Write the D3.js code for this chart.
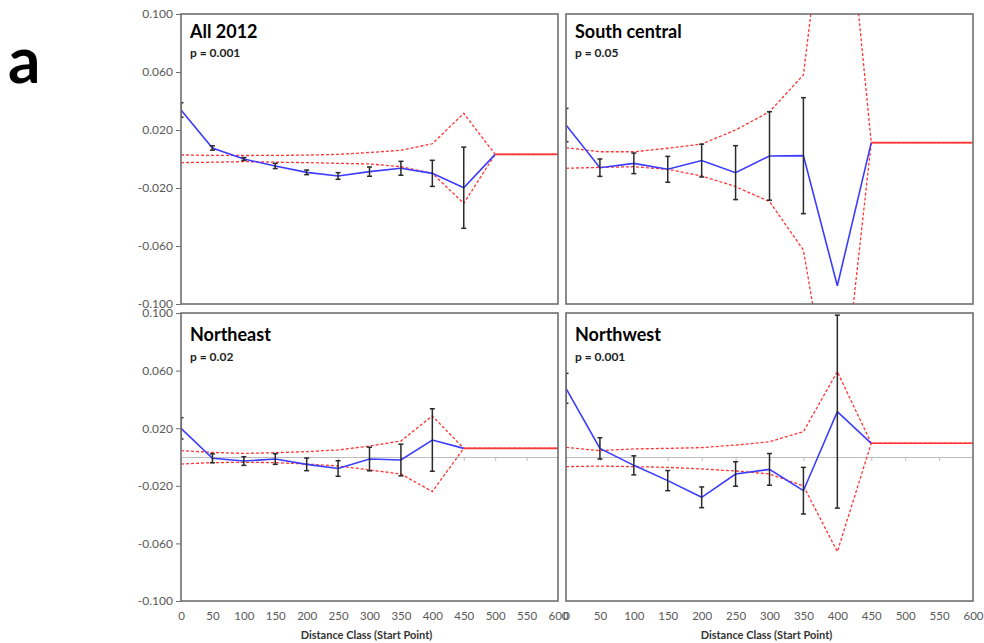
<!DOCTYPE html>
<html>
<head>
<meta charset="utf-8">
<script src="https://cdn.jsdelivr.net/npm/d3@7"></script>
<style>
  body { margin: 0; background: #fff; }
  svg { font-family: Lato, "Open Sans", sans-serif; }
</style>
</head>
<body>
<svg width="984" height="643"></svg>
<script>
// distance classes (start point) and y ticks
const distanceClass = [0, 50, 100, 150, 200, 250, 300, 350, 400, 450, 500, 550, 600];
const yTickValues = [0.100, 0.060, 0.020, -0.020, -0.060, -0.100];

// All 2012
const all2012Mean  = [0.0338, 0.0076, 0.0000, -0.0048, -0.0092, -0.0117, -0.0087, -0.0064, -0.0099, -0.0198, 0.0032];
const all2012Err   = [0.0050, 0.0015, 0.0010, 0.0018, 0.0016, 0.0023, 0.0032, 0.0048, 0.0090, 0.0280, null];
const all2012Upper = [0.0028, 0.0025, 0.0024, 0.0025, 0.0027, 0.0032, 0.0045, 0.0060, 0.0105, 0.0315, 0.0032, 0.0032, 0.0032];
const all2012Lower = [-0.0025, -0.0022, -0.0018, -0.0022, -0.0025, -0.0030, -0.0034, -0.0053, -0.0099, -0.0306, 0.0032, 0.0032, 0.0032];

// South central
const southMean  = [0.0234, -0.0060, -0.0030, -0.0071, -0.0011, -0.0094, 0.0021, 0.0023, -0.0874, 0.0113];
const southErr   = [0.0115, 0.0060, 0.0071, 0.0089, 0.0113, 0.0186, 0.0305, 0.0400, null, null];
const southUpper = [0.0078, 0.0050, 0.0050, 0.0074, 0.0103, 0.0200, 0.0326, 0.0580, 0.2500, 0.0113, 0.0113, 0.0113, 0.0113];
const southLower = [-0.0064, -0.0058, -0.0053, -0.0071, -0.0117, -0.0190, -0.0294, -0.0628, -0.2000, 0.0113, 0.0113, 0.0113, 0.0113];

// Northeast
const northeastMean  = [0.0199, -0.0009, -0.0028, -0.0014, -0.0051, -0.0080, -0.0014, -0.0021, 0.0118, 0.0060];
const northeastErr   = [0.0074, 0.0031, 0.0030, 0.0037, 0.0044, 0.0054, 0.0082, 0.0110, 0.0217, null];
const northeastUpper = [0.0044, 0.0032, 0.0025, 0.0030, 0.0037, 0.0049, 0.0076, 0.0111, 0.0285, 0.0060, 0.0060, 0.0060, 0.0060];
const northeastLower = [-0.0049, -0.0039, -0.0037, -0.0039, -0.0049, -0.0062, -0.0090, -0.0118, -0.0240, 0.0060, 0.0060, 0.0060, 0.0060];

// Northwest
const northwestMean  = [0.0477, 0.0060, -0.0058, -0.0164, -0.0280, -0.0118, -0.0086, -0.0234, 0.0315, 0.0095];
const northwestErr   = [0.0104, 0.0074, 0.0066, 0.0070, 0.0072, 0.0085, 0.0110, 0.0162, 0.0670, null];
const northwestUpper = [0.0067, 0.0044, 0.0056, 0.0060, 0.0065, 0.0083, 0.0106, 0.0176, 0.0593, 0.0095, 0.0095, 0.0095, 0.0095];
const northwestLower = [-0.0067, -0.0063, -0.0067, -0.0072, -0.0083, -0.0097, -0.0118, -0.0201, -0.0657, 0.0095, 0.0095, 0.0095, 0.0095];

const panels = [
  { title: 'All 2012', p: 'p = 0.001', mean: all2012Mean, err: all2012Err, upper: all2012Upper, lower: all2012Lower,
    left: 181, right: 558, top: 14, bottom: 304, titleY: 38, pY: 57, yLabels: true, zeroLine: false, xLabels: false },
  { title: 'South central', p: 'p = 0.05', mean: southMean, err: southErr, upper: southUpper, lower: southLower,
    left: 566, right: 973, top: 14, bottom: 304, titleY: 38, pY: 57, yLabels: false, zeroLine: false, xLabels: false },
  { title: 'Northeast', p: 'p = 0.02', mean: northeastMean, err: northeastErr, upper: northeastUpper, lower: northeastLower,
    left: 181, right: 558, top: 313, bottom: 601, titleY: 341, pY: 361, yLabels: true, zeroLine: true, xLabels: true },
  { title: 'Northwest', p: 'p = 0.001', mean: northwestMean, err: northwestErr, upper: northwestUpper, lower: northwestLower,
    left: 566, right: 973, top: 313, bottom: 601, titleY: 341, pY: 361, yLabels: false, zeroLine: true, xLabels: true }
];

const svg = d3.select('svg');

svg.append('text')
  .attr('x', 8).attr('y', 83)
  .attr('font-size', 64).attr('font-weight', 'bold')
  .text('a');

panels.forEach((pn, k) => {
  const x = d3.scaleLinear().domain([0, 600]).range([pn.left, pn.right]);
  const y = d3.scaleLinear().domain([-0.1, 0.1]).range([pn.bottom, pn.top]);
  const g = svg.append('g');

  const clipId = 'clip' + k;
  svg.append('clipPath').attr('id', clipId)
    .append('rect')
    .attr('x', pn.left).attr('y', pn.top)
    .attr('width', pn.right - pn.left).attr('height', pn.bottom - pn.top);

  const plot = g.append('g').attr('clip-path', 'url(#' + clipId + ')');

  // zero axis with small ticks
  if (pn.zeroLine) {
    const zero = plot.append('g')
      .attr('transform', 'translate(0,' + y(0) + ')')
      .call(d3.axisBottom(x).tickValues(distanceClass).tickSize(4).tickSizeOuter(0).tickFormat(''));
    zero.select('.domain').attr('stroke', '#bdbdbd').attr('stroke-width', 1);
    zero.selectAll('.tick line').attr('stroke', '#bdbdbd');
  }

  const line = d3.line()
    .defined(d => d != null)
    .x((d, i) => x(distanceClass[i]))
    .y(d => y(d));

  // random-permutation envelopes (dashed)
  [pn.upper, pn.lower].forEach(env => {
    plot.append('path')
      .attr('d', line(env))
      .attr('fill', 'none')
      .attr('stroke', '#ff3535')
      .attr('stroke-width', 1.3)
      .attr('stroke-dasharray', '3,2');
  });

  // observed correlogram
  plot.append('path')
    .attr('d', line(pn.mean))
    .attr('fill', 'none')
    .attr('stroke', '#3c3cff')
    .attr('stroke-width', 1.6);

  // where envelopes meet they show as a solid red line
  let start = pn.upper.length - 1;
  while (start > 0 && pn.upper[start - 1] === pn.lower[start - 1]) start--;
  const solid = pn.upper.map((v, i) => (i >= start ? v : null));
  plot.append('path')
    .attr('d', line(solid))
    .attr('fill', 'none')
    .attr('stroke', '#ff3535')
    .attr('stroke-width', 1.6);

  // error bars
  const bars = pn.mean.map((m, i) => ({ d: distanceClass[i], m: m, e: pn.err[i] })).filter(b => b.e != null);
  const eb = plot.selectAll('.eb').data(bars).enter().append('g')
    .attr('stroke', '#2a2a2a').attr('stroke-width', 1.5);
  eb.append('line')
    .attr('x1', b => x(b.d)).attr('x2', b => x(b.d))
    .attr('y1', b => y(b.m - b.e)).attr('y2', b => y(b.m + b.e));
  eb.append('line')
    .attr('x1', b => x(b.d) - 2.5).attr('x2', b => x(b.d) + 2.5)
    .attr('y1', b => y(b.m + b.e)).attr('y2', b => y(b.m + b.e));
  eb.append('line')
    .attr('x1', b => x(b.d) - 2.5).attr('x2', b => x(b.d) + 2.5)
    .attr('y1', b => y(b.m - b.e)).attr('y2', b => y(b.m - b.e));

  // frame
  g.append('rect')
    .attr('x', pn.left).attr('y', pn.top)
    .attr('width', pn.right - pn.left).attr('height', pn.bottom - pn.top)
    .attr('fill', 'none')
    .attr('stroke', '#6e6e6e')
    .attr('stroke-width', 1.6);

  if (pn.yLabels) {
    const ya = g.append('g')
      .attr('transform', 'translate(' + pn.left + ',0)')
      .call(d3.axisLeft(y).tickValues(yTickValues).tickSize(5).tickPadding(3).tickFormat(d => d.toFixed(3)));
    ya.select('.domain').remove();
    ya.selectAll('.tick line').attr('stroke', '#6e6e6e');
    ya.selectAll('text').attr('fill', '#595959').attr('font-size', 12).attr('font-family', 'Lato, sans-serif');
  }

  if (pn.xLabels) {
    const xa = g.append('g')
      .attr('transform', 'translate(0,' + pn.bottom + ')')
      .call(d3.axisBottom(x).tickValues(distanceClass).tickSize(0).tickPadding(11));
    xa.select('.domain').remove();
    xa.selectAll('text').attr('fill', '#595959').attr('font-size', 11.5).attr('font-family', 'Lato, sans-serif');

    g.append('text')
      .attr('x', (pn.left + pn.right) / 2 - 3).attr('y', 639)
      .attr('text-anchor', 'middle')
      .attr('font-size', 11).attr('font-weight', 'bold')
      .attr('fill', '#333')
      .text('Distance Class (Start Point)');
  }

  g.append('text')
    .attr('x', pn.left + 9).attr('y', pn.titleY)
    .attr('font-size', 18).attr('font-weight', 'bold')
    .text(pn.title);

  g.append('text')
    .attr('x', pn.left + 9).attr('y', pn.pY)
    .attr('font-size', 12).attr('font-weight', 'bold')
    .attr('fill', '#222')
    .text(pn.p);
});
</script>
</body>
</html>
